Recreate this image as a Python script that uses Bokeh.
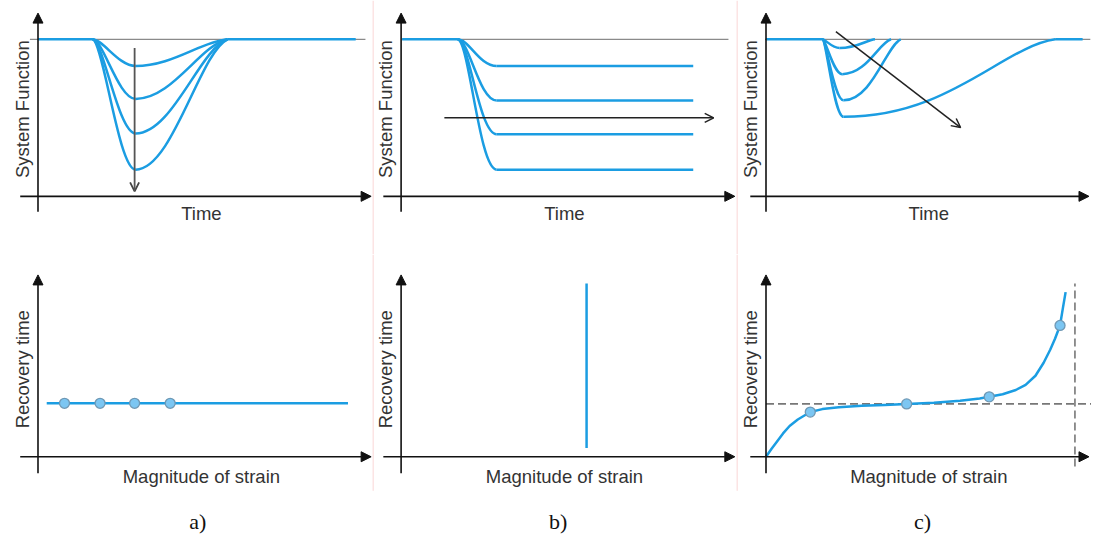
import math
from bokeh.plotting import figure
from bokeh.layouts import row, column
from bokeh.models import Range1d, Arrow, NormalHead, OpenHead
from bokeh.core.properties import value
from bokeh.embed import file_html
from bokeh.resources import INLINE

# ---------------- data ----------------
# a) top: transient dips, all recovering at the same time
a_dip_start = 1.62
a_trough_time = 2.91
a_dip_end = 5.65
a_trough_level = [0.83, 0.62, 0.40, 0.17]
a_baseline_end = 9.47

# b) top: drops to a new permanent level
b_drop_start = 1.68
b_drop_done = 2.85
b_plateau_end = 8.71
b_plateau_level = [0.83, 0.61, 0.395, 0.17]

# c) top: deeper dips recover later
c_dip_start = 1.68
c_trough_time = [2.2, 2.28, 2.32, 2.32]
c_trough_level = [0.944, 0.778, 0.611, 0.506]
c_recover_time = [3.26, 3.74, 4.03, 8.65]
c_baseline_end = 9.47

# a) bottom: recovery time independent of strain
a_strain = [0.79, 1.85, 2.88, 3.94]
a_recovery = [1.0, 1.0, 1.0, 1.0]
a_line_strain = [0.26, 9.24]
a_line_recovery = [1.0, 1.0]

# b) bottom: a single critical strain
b_strain = [5.53, 5.53]
b_recovery = [0.164, 3.24]

# c) bottom: recovery time grows with strain
c_strain = [0, 0.167, 0.314, 0.51, 0.706, 0.951, 1.324, 1.686, 2.176, 2.863,
            3.549, 4.206, 5.02, 5.804, 6.392, 6.676, 7.078, 7.471, 7.765,
            8.059, 8.304, 8.5, 8.647, 8.794, 8.882, 8.961]
c_recovery = [0, 0.151, 0.273, 0.436, 0.576, 0.697, 0.836, 0.891, 0.927, 0.952,
              0.970, 0.988, 1.012, 1.048, 1.091, 1.121, 1.170, 1.248, 1.345,
              1.515, 1.758, 2.0, 2.212, 2.455, 2.788, 3.079]
c_marker_strain = [1.324, 4.206, 6.676, 8.794]
c_marker_recovery = [0.836, 0.988, 1.121, 2.455]
c_asymptote = 0.988
c_limit_strain = 9.24

panel_letters = ["a)", "b)", "c)"]

# ---------------- styling ----------------
BLUE = "#1b9de2"
MARK_FILL = "#7cc6f2"
MARK_LINE = "#6f98b4"
AXIS = "#111111"
TXT = "#333333"
GRAY = "#8a8a8a"
PINK = "#f8c8c8"
SANS = value("Liberation Sans")
SERIF = value("Liberation Serif")
FS = value("18.5px")

col_w = [372, 364, 355]
top_h, bot_h = 254, 282
col_x = [(-38 / 34, 339 / 34), (-29 / 34, 340 / 34), (-30 / 34, 331 / 34)]
top_y = (-60 / 162, 202 / 162)
bot_y = (-82 / 55, 208 / 55)
x_tip = [9.93, 9.95, 9.66]
x_left = [-0.53, -0.53, -0.47]


def make_fig(w, h, xr, yr):
    p = figure(width=w, height=h, x_range=Range1d(*xr), y_range=Range1d(*yr),
               output_backend="svg", toolbar_location=None,
               x_axis_location=None, y_axis_location=None, min_border=0,
               outline_line_color=None, background_fill_color="white",
               border_fill_color="white")
    p.grid.visible = False
    return p


def add_axes(p, i, ybot, ytop):
    head = dict(size=10, fill_color=AXIS, line_color=AXIS)
    p.add_layout(Arrow(x_start=0, y_start=ybot, x_end=0, y_end=ytop,
                       end=NormalHead(**head), line_color=AXIS, line_width=1.6))
    p.add_layout(Arrow(x_start=x_left[i], y_start=0, x_end=x_tip[i], y_end=0,
                       end=NormalHead(**head), line_color=AXIS, line_width=1.6))


def dips(p, start, trough_t, levels, ends, k_down=(0.25, 0.4), k_up=(0.4, 0.3)):
    n = len(levels)
    x0 = [start] * n
    w = [t - start for t in trough_t]
    p.bezier(x0=x0, y0=[1] * n, x1=trough_t, y1=levels,
             cx0=[start + k_down[0] * wi for wi in w], cy0=[1] * n,
             cx1=[t - k_down[1] * wi for t, wi in zip(trough_t, w)], cy1=levels,
             line_color=BLUE, line_width=2.5)
    L = [e - t for e, t in zip(ends, trough_t)]
    p.bezier(x0=trough_t, y0=levels, x1=ends, y1=[1] * n,
             cx0=[t + k_up[0] * li for t, li in zip(trough_t, L)], cy0=levels,
             cx1=[e - k_up[1] * li for e, li in zip(ends, L)],
             cy1=[1 - 0.1 * (1 - lv) for lv in levels],
             line_color=BLUE, line_width=2.5)


tops, bots = [], []
for i in range(3):
    t = make_fig(col_w[i], top_h, col_x[i], top_y)
    b = make_fig(col_w[i], bot_h, col_x[i], bot_y)
    tops.append(t)
    bots.append(b)

# separators between the columns
for i, xs in [(1, -29 / 34 + 0.5 / 34), (2, -30 / 34 + 0.5 / 34)]:
    tops[i].segment(x0=[xs], y0=[top_y[0]], x1=[xs], y1=[top_y[1]],
                    line_color=PINK, line_width=1)
    bots[i].segment(x0=[xs], y0=[-35 / 55], x1=[xs], y1=[bot_y[1]],
                    line_color=PINK, line_width=1)

# ---- top a ----
p = tops[0]
p.segment(x0=[-0.24], y0=[1], x1=[9.76], y1=[1], line_color=GRAY, line_width=1.2)
p.segment(x0=[0, a_dip_end], y0=[1, 1], x1=[a_dip_start, a_baseline_end], y1=[1, 1],
          line_color=BLUE, line_width=2.5)
dips(p, a_dip_start, [a_trough_time] * 4, a_trough_level, [a_dip_end] * 4,
     k_down=(0.25, 0.4), k_up=(0.4, 0.3))
p.add_layout(Arrow(x_start=2.88, y_start=0.944, x_end=2.88, y_end=0.031,
                   end=OpenHead(size=9, line_color="#444", line_width=1.8),
                   line_color="#555", line_width=1.8))

# ---- top b ----
p = tops[1]
p.segment(x0=[0.03], y0=[1], x1=[9.76], y1=[1], line_color=GRAY, line_width=1.2)
p.segment(x0=[0.03], y0=[1], x1=[b_drop_start], y1=[1], line_color=BLUE, line_width=2.5)
n = len(b_plateau_level)
wb = b_drop_done - b_drop_start
p.bezier(x0=[b_drop_start] * n, y0=[1] * n, x1=[b_drop_done] * n, y1=b_plateau_level,
         cx0=[b_drop_start + 0.3 * wb] * n, cy0=[1] * n,
         cx1=[b_drop_done - 0.45 * wb] * n, cy1=b_plateau_level,
         line_color=BLUE, line_width=2.5)
p.segment(x0=[b_drop_done] * n, y0=b_plateau_level, x1=[b_plateau_end] * n,
          y1=b_plateau_level, line_color=BLUE, line_width=2.5)
p.add_layout(Arrow(x_start=1.29, y_start=0.5, x_end=9.32, y_end=0.5,
                   end=OpenHead(size=9, line_color="#222", line_width=1.5),
                   line_color="#222", line_width=1.5))

# ---- top c ----
p = tops[2]
p.segment(x0=[-0.03], y0=[1], x1=[9.7], y1=[1], line_color=GRAY, line_width=1.2)
p.segment(x0=[0, c_recover_time[-1]], y0=[1, 1], x1=[c_dip_start, c_baseline_end],
          y1=[1, 1], line_color=BLUE, line_width=2.5)
dips(p, c_dip_start, c_trough_time, c_trough_level, c_recover_time,
     k_down=(0.2, 0.45), k_up=(0.5, 0.25))
p.add_layout(Arrow(x_start=2.09, y_start=1.049, x_end=5.82, y_end=0.438,
                   end=OpenHead(size=9, line_color="#222", line_width=1.5),
                   line_color="#222", line_width=1.5))

for i in range(3):
    add_axes(tops[i], i, -16 / 162, 189 / 162)
    tops[i].text(x=[-0.47], y=[90 / 162], text=["System Function"], angle=[math.pi / 2],
                 text_align="center", text_baseline="middle", text_font=SANS,
                 text_font_size=FS, text_color=TXT)
    tops[i].text(x=[4.87], y=[-18 / 162], text=["Time"], text_align="center",
                 text_baseline="middle", text_font=SANS, text_font_size=FS,
                 text_color=TXT)

# ---- bottom a ----
p = bots[0]
p.line(a_line_strain, a_line_recovery, line_color=BLUE, line_width=2.5)
p.scatter(a_strain, a_recovery, size=10, fill_color=MARK_FILL, line_color=MARK_LINE,
          line_width=1.3)

# ---- bottom b ----
p = bots[1]
p.line(b_strain, b_recovery, line_color=BLUE, line_width=2.5)

# ---- bottom c ----
p = bots[2]
p.segment(x0=[0], y0=[c_asymptote], x1=[9.73], y1=[c_asymptote], line_color="#777",
          line_width=1.6, line_dash="8 4")
p.segment(x0=[c_limit_strain], y0=[-0.18], x1=[c_limit_strain], y1=[3.24],
          line_color="#777", line_width=1.6, line_dash="8 4")
p.line(c_strain, c_recovery, line_color=BLUE, line_width=2.5, line_join="round")
p.scatter(c_marker_strain, c_marker_recovery, size=10, fill_color=MARK_FILL,
          line_color=MARK_LINE, line_width=1.3)

letter_x = [4.76, 4.68, 4.68]
for i in range(3):
    add_axes(bots[i], i, -17 / 55, 187 / 55)
    bots[i].text(x=[-0.47], y=[90 / 55], text=["Recovery time"], angle=[math.pi / 2],
                 text_align="center", text_baseline="middle", text_font=SANS,
                 text_font_size=FS, text_color=TXT)
    bots[i].text(x=[4.87], y=[-20 / 55], text=["Magnitude of strain"],
                 text_align="center", text_baseline="middle", text_font=SANS,
                 text_font_size=FS, text_color=TXT)
    bots[i].text(x=[letter_x[i]], y=[-67 / 55], text=[panel_letters[i]],
                 text_align="center", text_baseline="middle", text_font=SERIF,
                 text_font_size=value("22px"), text_color="#111")

layout = row(*[column(tops[i], bots[i], spacing=0) for i in range(3)], spacing=0)
open("out.html", "w").write(file_html(layout, INLINE))
